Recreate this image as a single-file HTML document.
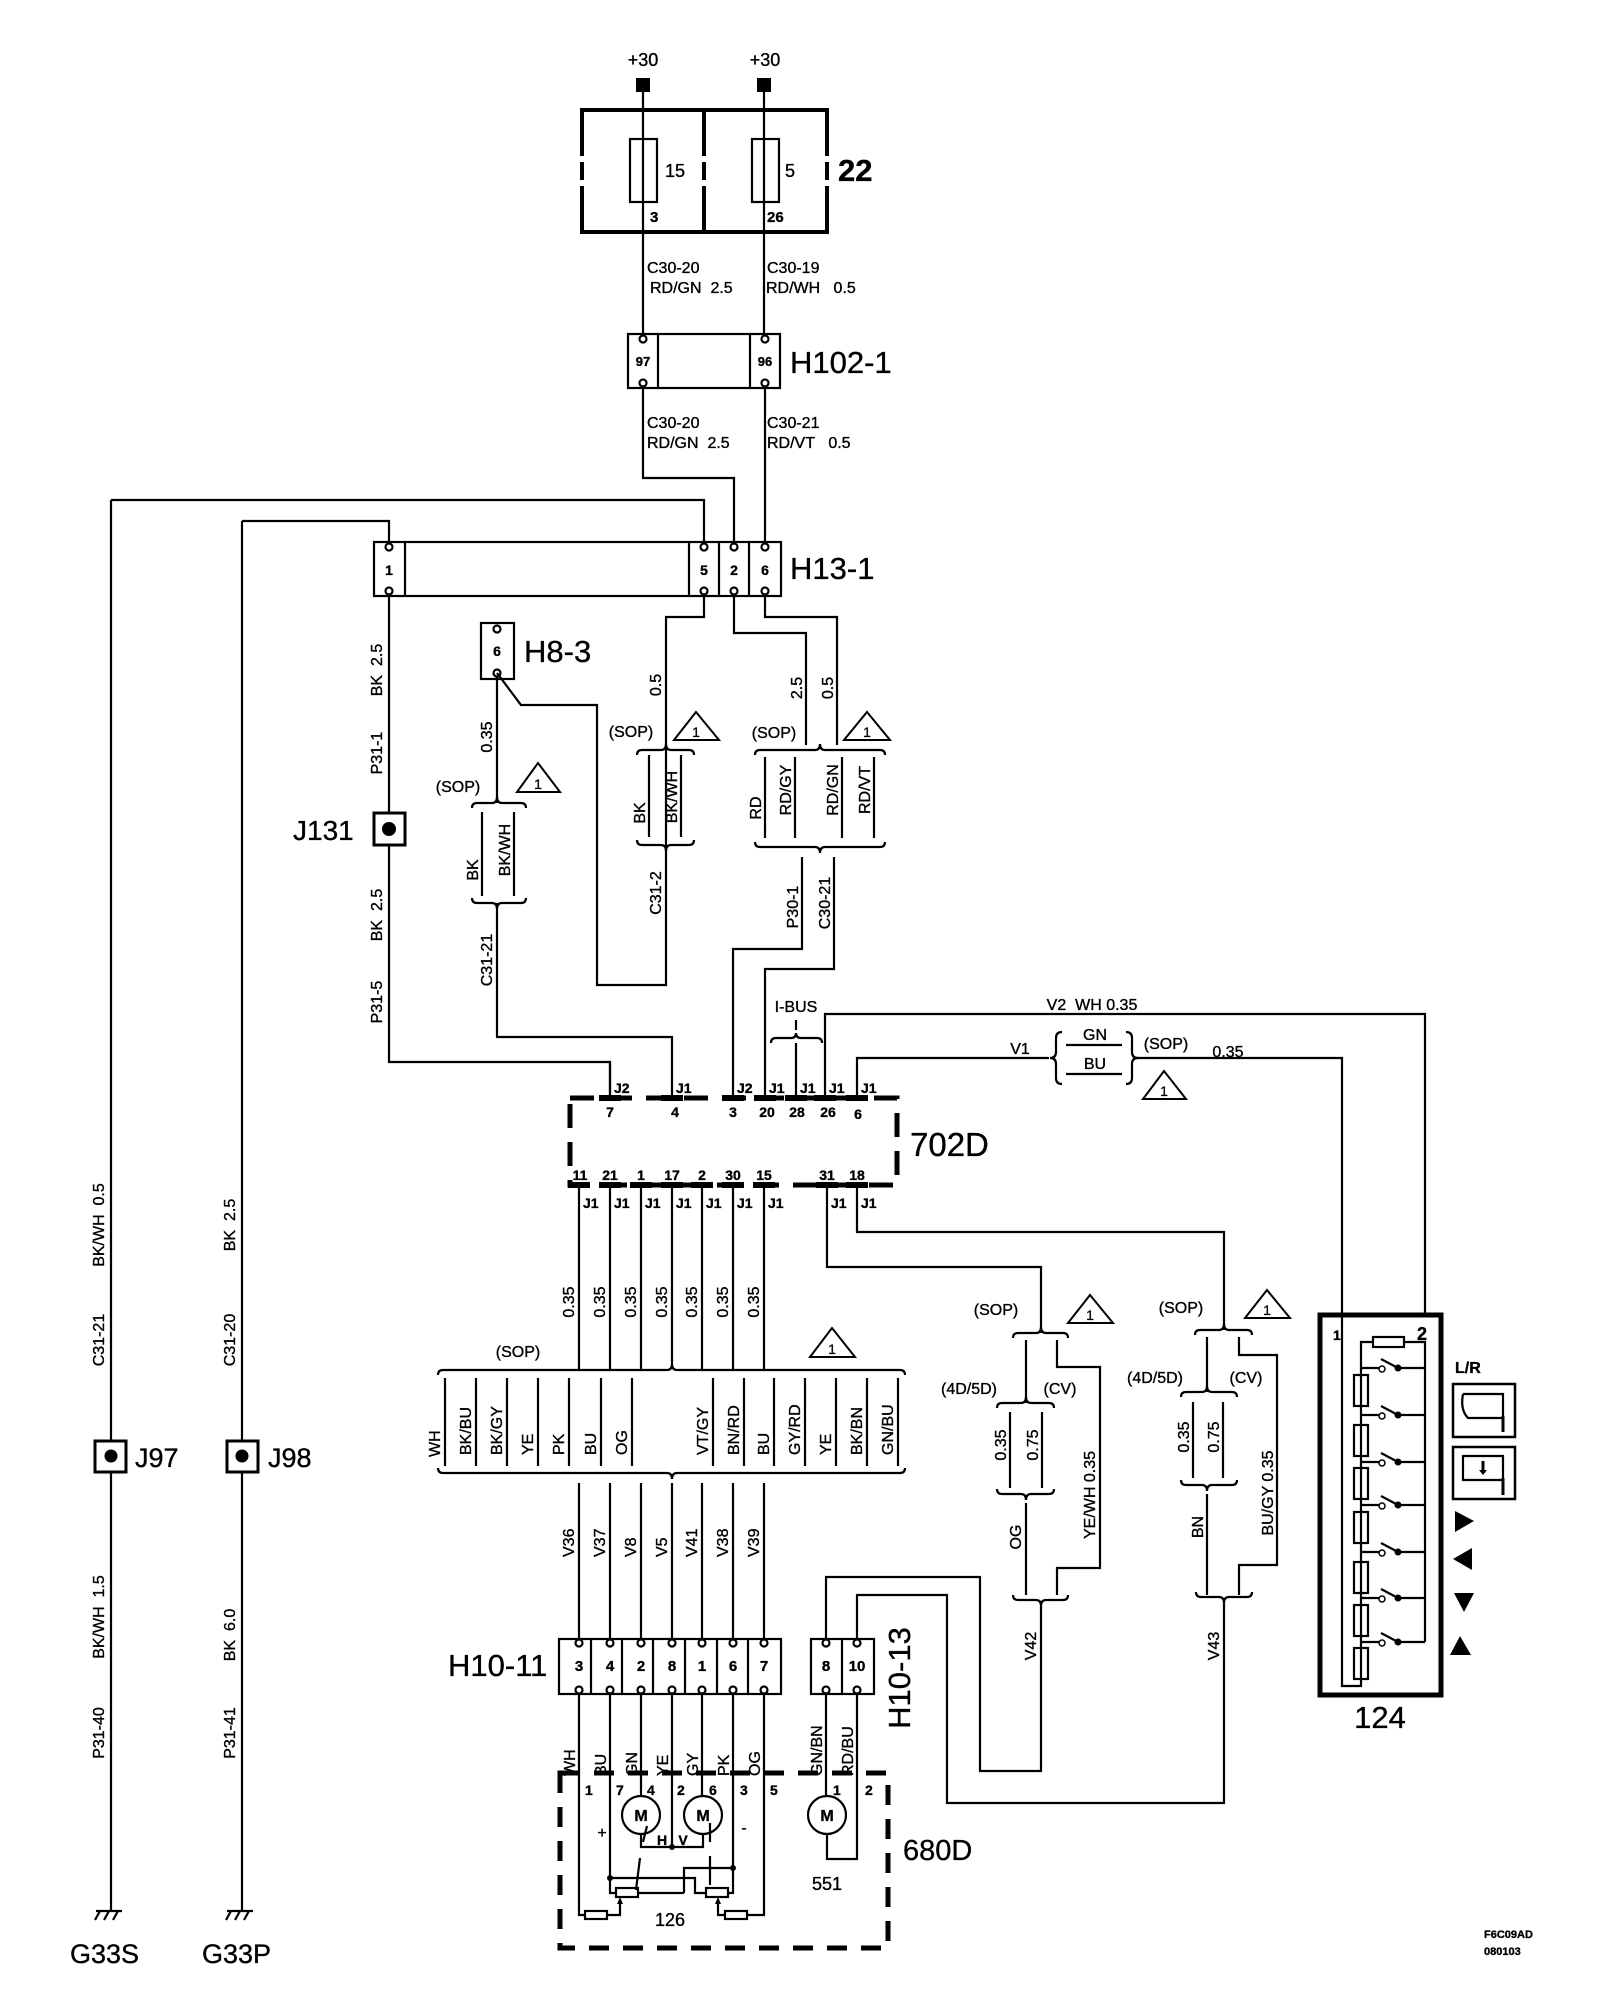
<!DOCTYPE html>
<html><head><meta charset="utf-8"><style>
html,body{margin:0;padding:0;background:#fff;}
svg{display:block;}
text{font-family:"Liberation Sans",Arial,sans-serif;fill:#000;stroke:#000;stroke-width:0.35;}
.s{font-size:16px;}
.p{font-size:14px;font-weight:bold;}
.m{font-size:18px;}
.b{font-size:31px;}
.w{fill:none;stroke:#000;stroke-width:2.2;}
.k{fill:none;stroke:#000;stroke-width:4;}
</style></head><body>
<svg width="1600" height="2000" viewBox="0 0 1600 2000" xmlns="http://www.w3.org/2000/svg">
<rect width="1600" height="2000" fill="#fff"/>

<!-- Fuse box 22 -->
<text class="m" x="643" y="66" text-anchor="middle">+30</text>
<text class="m" x="765" y="66" text-anchor="middle">+30</text>
<rect x="636" y="78" width="14" height="14"/>
<rect x="757" y="78" width="14" height="14"/>
<path class="k" d="M582 156V110H827V156 M582 162V180 M827 162V180 M582 186V232H827V186 M704 110V156 M704 162V180 M704 186V232"/>
<path class="w" d="M643 92V334 M764 92V334"/>
<rect class="w" x="630" y="139" width="27" height="63"/>
<rect class="w" x="752" y="139" width="27" height="63"/>
<text class="m" x="665" y="177">15</text>
<text class="m" x="785" y="177">5</text>
<text class="p" x="650" y="222" style="font-size:15px">3</text>
<text class="p" x="767" y="222" style="font-size:15px">26</text>
<text x="838" y="181" style="font-size:31px;font-weight:bold">22</text>
<text class="s" x="647" y="273">C30-20</text>
<text class="s" x="650" y="293">RD/GN&#160;&#160;2.5</text>
<text class="s" x="767" y="273">C30-19</text>
<text class="s" x="766" y="293">RD/WH&#160;&#160;&#160;0.5</text>

<!-- H102-1 -->
<rect class="w" x="628" y="334" width="152" height="54"/>
<path class="w" d="M658 334V388 M750 334V388"/>
<circle class="w" cx="643" cy="339" r="3.5" fill="#fff"/><circle class="w" cx="643" cy="383" r="3.5" fill="#fff"/>
<circle class="w" cx="765" cy="339" r="3.5" fill="#fff"/><circle class="w" cx="765" cy="383" r="3.5" fill="#fff"/>
<text class="p" x="643" y="366" text-anchor="middle" style="font-size:13px">97</text>
<text class="p" x="765" y="366" text-anchor="middle" style="font-size:13px">96</text>
<text class="b" x="790" y="373">H102-1</text>
<text class="s" x="647" y="428">C30-20</text>
<text class="s" x="647" y="448">RD/GN&#160;&#160;2.5</text>
<text class="s" x="767" y="428">C30-21</text>
<text class="s" x="767" y="448">RD/VT&#160;&#160;&#160;0.5</text>
<path class="w" d="M643 388V478H734V542 M765 388V542"/>
<path class="w" d="M111 500H704V542 M242 521H389V542"/>

<!-- H13-1 -->
<rect class="w" x="374" y="542" width="407" height="54"/>
<path class="w" d="M405 542V596 M689 542V596 M719 542V596 M749 542V596"/>
<g class="w" fill="#fff">
<circle cx="389" cy="547" r="3.5"/><circle cx="389" cy="591" r="3.5"/>
<circle cx="704" cy="547" r="3.5"/><circle cx="704" cy="591" r="3.5"/>
<circle cx="734" cy="547" r="3.5"/><circle cx="734" cy="591" r="3.5"/>
<circle cx="765" cy="547" r="3.5"/><circle cx="765" cy="591" r="3.5"/>
</g>
<text class="p" x="389" y="575" text-anchor="middle">1</text>
<text class="p" x="704" y="575" text-anchor="middle">5</text>
<text class="p" x="734" y="575" text-anchor="middle">2</text>
<text class="p" x="765" y="575" text-anchor="middle">6</text>
<text class="b" x="790" y="579">H13-1</text>

<!-- pin1 wire + J131 -->
<path class="w" d="M389 596V1062H610V1098"/>
<rect x="374" y="813" width="31" height="32" fill="#fff" stroke="#000" stroke-width="3"/>
<circle cx="389" cy="829" r="7"/>
<text class="b" x="293" y="840" style="font-size:28px">J131</text>
<text class="s" transform="rotate(-90 382 670)" x="382" y="670" text-anchor="middle">BK&#160;&#160;2.5</text>
<text class="s" transform="rotate(-90 382 753)" x="382" y="753" text-anchor="middle">P31-1</text>
<text class="s" transform="rotate(-90 382 915)" x="382" y="915" text-anchor="middle">BK&#160;&#160;2.5</text>
<text class="s" transform="rotate(-90 382 1002)" x="382" y="1002" text-anchor="middle">P31-5</text>

<!-- H8-3 -->
<rect class="w" x="481" y="623" width="33" height="56"/>
<circle class="w" cx="497" cy="629" r="3.5" fill="#fff"/><circle class="w" cx="497" cy="673" r="3.5" fill="#fff"/>
<text class="p" x="497" y="656" text-anchor="middle">6</text>
<text class="b" x="524" y="662">H8-3</text>
<path class="w" d="M497 676V803 M497 903V1037H672V1098"/>
<text class="s" transform="rotate(-90 492 737)" x="492" y="737" text-anchor="middle">0.35</text>
<text class="s" x="458" y="792" text-anchor="middle">(SOP)</text>
<path class="w" d="M472 808Q472 803 477 803L492 803Q497 803 497 797Q497 803 502 803L521 803Q526 803 526 808"/>
<path class="w" d="M482 812V896 M514 812V896"/>
<text class="s" transform="rotate(-90 478 870)" x="478" y="870" text-anchor="middle">BK</text>
<text class="s" transform="rotate(-90 510 850)" x="510" y="850" text-anchor="middle">BK/WH</text>
<path class="w" d="M472 898Q472 903 477 903L492 903Q497 903 497 909Q497 903 502 903L521 903Q526 903 526 898"/>
<text class="s" transform="rotate(-90 492 960)" x="492" y="960" text-anchor="middle">C31-21</text>

<!-- pin 5 route -->
<path class="w" d="M497 673L521 705H597V985H666V617H704V596"/>
<text class="s" transform="rotate(-90 661 685)" x="661" y="685" text-anchor="middle">0.5</text>
<text class="s" x="631" y="737" text-anchor="middle">(SOP)</text>
<path class="w" d="M637 755Q637 750 642 750L661 750Q666 750 666 744Q666 750 671 750L689 750Q694 750 694 755"/>
<path class="w" d="M649 755V837 M681 755V837"/>
<text class="s" transform="rotate(-90 645 813)" x="645" y="813" text-anchor="middle">BK</text>
<text class="s" transform="rotate(-90 677 797)" x="677" y="797" text-anchor="middle">BK/WH</text>
<path class="w" d="M637 840Q637 845 642 845L661 845Q666 845 666 851Q666 845 671 845L689 845Q694 845 694 840"/>
<text class="s" transform="rotate(-90 661 893)" x="661" y="893" text-anchor="middle">C31-2</text>

<!-- pins 2, 6 -->
<path class="w" d="M734 596V633H806V745 M765 596V617H837V745"/>
<text class="s" transform="rotate(-90 802 688)" x="802" y="688" text-anchor="middle">2.5</text>
<text class="s" transform="rotate(-90 833 688)" x="833" y="688" text-anchor="middle">0.5</text>
<text class="s" x="774" y="738" text-anchor="middle">(SOP)</text>
<path class="w" d="M755 755Q755 750 760 750L815 750Q820 750 820 744Q820 750 825 750L880 750Q885 750 885 755"/>
<path class="w" d="M765 757V838 M795 757V838 M842 757V838 M874 757V838"/>
<text class="s" transform="rotate(-90 761 808)" x="761" y="808" text-anchor="middle">RD</text>
<text class="s" transform="rotate(-90 791 790)" x="791" y="790" text-anchor="middle">RD/GY</text>
<text class="s" transform="rotate(-90 838 790)" x="838" y="790" text-anchor="middle">RD/GN</text>
<text class="s" transform="rotate(-90 870 790)" x="870" y="790" text-anchor="middle">RD/VT</text>
<path class="w" d="M755 842Q755 847 760 847L815 847Q820 847 820 853Q820 847 825 847L880 847Q885 847 885 842"/>
<path class="w" d="M802 857V949H733V1098 M834 857V969H765V1098"/>
<text class="s" transform="rotate(-90 798 907)" x="798" y="907" text-anchor="middle">P30-1</text>
<text class="s" transform="rotate(-90 830 903)" x="830" y="903" text-anchor="middle">C30-21</text>

<!-- I-BUS -->
<text class="s" x="796" y="1012" text-anchor="middle">I-BUS</text>
<path class="w" d="M796 1020V1030"/>
<path class="w" d="M771 1043Q771 1038 776 1038L791 1038Q796 1038 796 1033Q796 1038 801 1038L817 1038Q822 1038 822 1043"/>
<path class="w" d="M796 1043V1098"/>
<path class="w" d="M825 1098V1014H1425V1313"/>
<text class="s" x="1092" y="1010" text-anchor="middle">V2&#160;&#160;WH 0.35</text>
<path class="w" d="M857 1098V1058H1049 M1137 1058H1342V1313"/>
<text class="s" x="1020" y="1054" text-anchor="middle">V1</text>
<path class="w" d="M1062 1032Q1056 1032 1056 1038L1056 1052Q1056 1058 1050 1058Q1056 1058 1056 1064L1056 1078Q1056 1084 1062 1084"/>
<path class="w" d="M1126 1032Q1132 1032 1132 1038L1132 1052Q1132 1058 1138 1058Q1132 1058 1132 1064L1132 1078Q1132 1084 1126 1084"/>
<text class="s" x="1095" y="1040" text-anchor="middle">GN</text>
<path class="w" d="M1066 1045H1122 M1066 1074H1122"/>
<text class="s" x="1095" y="1069" text-anchor="middle">BU</text>
<text class="s" x="1166" y="1049" text-anchor="middle">(SOP)</text>
<text class="s" x="1228" y="1057" text-anchor="middle">0.35</text>

<!-- 702D -->
<rect x="570" y="1098" width="327" height="87" fill="none" stroke="#000" stroke-width="5" stroke-dasharray="24 14"/>
<path stroke="#000" stroke-width="6" d="M599 1098H621 M661 1098H683 M722 1098H744 M754 1098H776 M785 1098H807 M814 1098H836 M846 1098H868 M568 1185H590 M599 1185H621 M630 1185H652 M661 1185H683 M691 1185H713 M722 1185H744 M753 1185H775 M816 1185H838 M846 1185H868"/>
<path class="w" d="M610 1062V1098"/>
<g class="p">
<text x="614" y="1093">J2</text><text x="676" y="1093">J1</text><text x="737" y="1093">J2</text><text x="769" y="1093">J1</text><text x="800" y="1093">J1</text><text x="829" y="1093">J1</text><text x="861" y="1093">J1</text>
<text x="610" y="1117" text-anchor="middle">7</text><text x="675" y="1117" text-anchor="middle">4</text><text x="733" y="1117" text-anchor="middle">3</text><text x="767" y="1117" text-anchor="middle">20</text><text x="797" y="1117" text-anchor="middle">28</text><text x="828" y="1117" text-anchor="middle">26</text><text x="858" y="1119" text-anchor="middle">6</text>
<text x="580" y="1180" text-anchor="middle">11</text><text x="610" y="1180" text-anchor="middle">21</text><text x="641" y="1180" text-anchor="middle">1</text><text x="672" y="1180" text-anchor="middle">17</text><text x="702" y="1180" text-anchor="middle">2</text><text x="733" y="1180" text-anchor="middle">30</text><text x="764" y="1180" text-anchor="middle">15</text><text x="827" y="1180" text-anchor="middle">31</text><text x="857" y="1180" text-anchor="middle">18</text>
<text x="583" y="1208">J1</text><text x="614" y="1208">J1</text><text x="645" y="1208">J1</text><text x="676" y="1208">J1</text><text x="706" y="1208">J1</text><text x="737" y="1208">J1</text><text x="768" y="1208">J1</text><text x="831" y="1208">J1</text><text x="861" y="1208">J1</text>
</g>
<text x="910" y="1156" style="font-size:33px">702D</text>

<!-- bottom wires from 702D -->
<path class="w" d="M579 1185V1370 M610 1185V1370 M641 1185V1370 M672 1185V1364 M702 1185V1370 M733 1185V1370 M764 1185V1370"/>
<g class="s">
<text transform="rotate(-90 574 1302)" x="574" y="1302" text-anchor="middle">0.35</text>
<text transform="rotate(-90 605 1302)" x="605" y="1302" text-anchor="middle">0.35</text>
<text transform="rotate(-90 636 1302)" x="636" y="1302" text-anchor="middle">0.35</text>
<text transform="rotate(-90 667 1302)" x="667" y="1302" text-anchor="middle">0.35</text>
<text transform="rotate(-90 697 1302)" x="697" y="1302" text-anchor="middle">0.35</text>
<text transform="rotate(-90 728 1302)" x="728" y="1302" text-anchor="middle">0.35</text>
<text transform="rotate(-90 759 1302)" x="759" y="1302" text-anchor="middle">0.35</text>
</g>
<text class="s" x="518" y="1357" text-anchor="middle">(SOP)</text>
<path class="w" d="M438 1375Q438 1370 443 1370L667 1370Q672 1370 672 1364Q672 1370 677 1370L900 1370Q905 1370 905 1375"/>
<path class="w" d="M445 1378V1466 M476 1378V1466 M507 1378V1466 M538 1378V1466 M569 1378V1466 M601 1378V1466 M632 1378V1466 M713 1378V1466 M744 1378V1466 M774 1378V1466 M805 1378V1466 M836 1378V1466 M867 1378V1466 M898 1378V1466"/>
<g class="s">
<text transform="rotate(-90 440 1457)" x="440" y="1457">WH</text>
<text transform="rotate(-90 471 1455)" x="471" y="1455">BK/BU</text>
<text transform="rotate(-90 502 1455)" x="502" y="1455">BK/GY</text>
<text transform="rotate(-90 533 1455)" x="533" y="1455">YE</text>
<text transform="rotate(-90 564 1455)" x="564" y="1455">PK</text>
<text transform="rotate(-90 596 1455)" x="596" y="1455">BU</text>
<text transform="rotate(-90 627 1455)" x="627" y="1455">OG</text>
<text transform="rotate(-90 708 1455)" x="708" y="1455">VT/GY</text>
<text transform="rotate(-90 739 1455)" x="739" y="1455">BN/RD</text>
<text transform="rotate(-90 769 1455)" x="769" y="1455">BU</text>
<text transform="rotate(-90 800 1455)" x="800" y="1455">GY/RD</text>
<text transform="rotate(-90 831 1455)" x="831" y="1455">YE</text>
<text transform="rotate(-90 862 1455)" x="862" y="1455">BK/BN</text>
<text transform="rotate(-90 893 1455)" x="893" y="1455">GN/BU</text>
</g>
<path class="w" d="M438 1468Q438 1473 443 1473L667 1473Q672 1473 672 1479Q672 1473 677 1473L900 1473Q905 1473 905 1468"/>
<path class="w" d="M579 1483V1639 M610 1483V1639 M641 1483V1639 M672 1483V1639 M702 1483V1639 M733 1483V1639 M764 1483V1639"/>
<g class="s">
<text transform="rotate(-90 574 1557)" x="574" y="1557">V36</text>
<text transform="rotate(-90 605 1557)" x="605" y="1557">V37</text>
<text transform="rotate(-90 636 1557)" x="636" y="1557">V8</text>
<text transform="rotate(-90 667 1557)" x="667" y="1557">V5</text>
<text transform="rotate(-90 697 1557)" x="697" y="1557">V41</text>
<text transform="rotate(-90 728 1557)" x="728" y="1557">V38</text>
<text transform="rotate(-90 759 1557)" x="759" y="1557">V39</text>
</g>

<!-- triangles -->
<g fill="none" stroke="#000" stroke-width="2">
<path d="M538 763L560 792H517Z"/><path d="M696 712L719 740H674Z"/><path d="M867 712L890 740H844Z"/>
<path d="M832 1328L855 1357H810Z"/><path d="M1090 1295L1113 1323H1068Z"/><path d="M1267 1290L1290 1318H1245Z"/>
<path d="M1164 1071L1186 1099H1143Z"/>
</g>
<g style="font-size:14px" text-anchor="middle">
<text x="538" y="789">1</text><text x="696" y="737">1</text><text x="867" y="737">1</text>
<text x="832" y="1354">1</text><text x="1090" y="1320">1</text><text x="1267" y="1315">1</text><text x="1164" y="1096">1</text>
</g>

<!-- V42 group -->
<path class="w" d="M827 1185V1267H1041V1333 M857 1185V1232H1224V1330"/>
<text class="s" x="996" y="1315" text-anchor="middle">(SOP)</text>
<text class="s" x="1181" y="1313" text-anchor="middle">(SOP)</text>
<path class="w" d="M1013 1338Q1013 1333 1018 1333L1036 1333Q1041 1333 1041 1327Q1041 1333 1046 1333L1063 1333Q1068 1333 1068 1338"/>
<path class="w" d="M1026 1340V1403 M1057 1340V1367H1100V1568H1057V1595"/>
<text class="s" x="969" y="1394" text-anchor="middle">(4D/5D)</text>
<text class="s" x="1060" y="1394" text-anchor="middle">(CV)</text>
<path class="w" d="M997 1408Q997 1403 1002 1403L1021 1403Q1026 1403 1026 1397Q1026 1403 1031 1403L1049 1403Q1054 1403 1054 1408"/>
<path class="w" d="M1010 1412V1488 M1042 1412V1488"/>
<text class="s" transform="rotate(-90 1006 1445)" x="1006" y="1445" text-anchor="middle">0.35</text>
<text class="s" transform="rotate(-90 1038 1445)" x="1038" y="1445" text-anchor="middle">0.75</text>
<path class="w" d="M997 1489Q997 1494 1002 1494L1021 1494Q1026 1494 1026 1500Q1026 1494 1031 1494L1049 1494Q1054 1494 1054 1489"/>
<path class="w" d="M1026 1503V1595"/>
<text class="s" transform="rotate(-90 1021 1537)" x="1021" y="1537" text-anchor="middle">OG</text>
<text class="s" transform="rotate(-90 1095 1495)" x="1095" y="1495" text-anchor="middle">YE/WH 0.35</text>
<path class="w" d="M1013 1595Q1013 1600 1018 1600L1036 1600Q1041 1600 1041 1606Q1041 1600 1046 1600L1063 1600Q1068 1600 1068 1595"/>
<path class="w" d="M1041 1606V1771H980V1577H826V1639"/>
<text class="s" transform="rotate(-90 1036 1646)" x="1036" y="1646" text-anchor="middle">V42</text>

<!-- V43 group -->
<path class="w" d="M1195 1335Q1195 1330 1200 1330L1219 1330Q1224 1330 1224 1324Q1224 1330 1229 1330L1247 1330Q1252 1330 1252 1335"/>
<path class="w" d="M1207 1337V1392 M1239 1337V1355H1277V1565H1239V1595"/>
<text class="s" x="1155" y="1383" text-anchor="middle">(4D/5D)</text>
<text class="s" x="1246" y="1383" text-anchor="middle">(CV)</text>
<path class="w" d="M1181 1397Q1181 1392 1186 1392L1202 1392Q1207 1392 1207 1386Q1207 1392 1212 1392L1232 1392Q1237 1392 1237 1397"/>
<path class="w" d="M1193 1402V1478 M1223 1402V1478"/>
<text class="s" transform="rotate(-90 1189 1437)" x="1189" y="1437" text-anchor="middle">0.35</text>
<text class="s" transform="rotate(-90 1219 1437)" x="1219" y="1437" text-anchor="middle">0.75</text>
<path class="w" d="M1181 1480Q1181 1485 1186 1485L1202 1485Q1207 1485 1207 1491Q1207 1485 1212 1485L1232 1485Q1237 1485 1237 1480"/>
<path class="w" d="M1207 1494V1595"/>
<text class="s" transform="rotate(-90 1203 1527)" x="1203" y="1527" text-anchor="middle">BN</text>
<text class="s" transform="rotate(-90 1273 1493)" x="1273" y="1493" text-anchor="middle">BU/GY 0.35</text>
<path class="w" d="M1196 1592Q1196 1597 1201 1597L1219 1597Q1224 1597 1224 1603Q1224 1597 1229 1597L1247 1597Q1252 1597 1252 1592"/>
<path class="w" d="M1224 1603V1803H947V1595H857V1639"/>
<text class="s" transform="rotate(-90 1219 1646)" x="1219" y="1646" text-anchor="middle">V43</text>

<!-- H10-11 -->
<rect class="w" x="559" y="1639" width="222" height="55"/>
<path class="w" d="M591 1639V1694 M622 1639V1694 M653 1639V1694 M685 1639V1694 M717 1639V1694 M748 1639V1694"/>
<g class="w" fill="#fff">
<circle cx="579" cy="1643" r="3.5"/><circle cx="610" cy="1643" r="3.5"/><circle cx="641" cy="1643" r="3.5"/><circle cx="672" cy="1643" r="3.5"/><circle cx="702" cy="1643" r="3.5"/><circle cx="733" cy="1643" r="3.5"/><circle cx="764" cy="1643" r="3.5"/>
<circle cx="579" cy="1690" r="3.5"/><circle cx="610" cy="1690" r="3.5"/><circle cx="641" cy="1690" r="3.5"/><circle cx="672" cy="1690" r="3.5"/><circle cx="702" cy="1690" r="3.5"/><circle cx="733" cy="1690" r="3.5"/><circle cx="764" cy="1690" r="3.5"/>
<circle cx="826" cy="1643" r="3.5"/><circle cx="857" cy="1643" r="3.5"/><circle cx="826" cy="1690" r="3.5"/><circle cx="857" cy="1690" r="3.5"/>
</g>
<g class="p" text-anchor="middle" style="font-size:15px">
<text x="579" y="1671">3</text><text x="610" y="1671">4</text><text x="641" y="1671">2</text><text x="672" y="1671">8</text><text x="702" y="1671">1</text><text x="733" y="1671">6</text><text x="764" y="1671">7</text>
<text x="826" y="1671">8</text><text x="857" y="1671">10</text>
</g>
<text class="b" x="448" y="1676">H10-11</text>
<rect class="w" x="811" y="1639" width="63" height="55"/>
<path class="w" d="M842 1639V1694"/>
<text class="b" transform="rotate(-90 910 1678)" x="910" y="1678" text-anchor="middle">H10-13</text>

<!-- wires into 680D -->
<path class="w" d="M579 1694V1915H585 M607 1915H620V1900 M610 1694V1893H616 M641 1694V1796 M672 1694V1847 M702 1694V1796 M733 1694V1893H728 M764 1694V1915H747 M725 1915H718V1900 M826 1694V1796 M857 1694V1859H827V1834"/>
<g class="s">
<text transform="rotate(-90 575 1776)" x="575" y="1776">WH</text>
<text transform="rotate(-90 606 1776)" x="606" y="1776">BU</text>
<text transform="rotate(-90 637 1776)" x="637" y="1776">GN</text>
<text transform="rotate(-90 668 1776)" x="668" y="1776">YE</text>
<text transform="rotate(-90 698 1776)" x="698" y="1776">GY</text>
<text transform="rotate(-90 729 1776)" x="729" y="1776">PK</text>
<text transform="rotate(-90 760 1776)" x="760" y="1776">OG</text>
<text transform="rotate(-90 822 1776)" x="822" y="1776">GN/BN</text>
<text transform="rotate(-90 853 1776)" x="853" y="1776">RD/BU</text>
</g>
<!-- 680D -->
<rect x="560" y="1773" width="328" height="175" fill="none" stroke="#000" stroke-width="5" stroke-dasharray="20 14"/>
<g class="p">
<text x="585" y="1795">1</text><text x="616" y="1795">7</text><text x="647" y="1795">4</text><text x="677" y="1795">2</text><text x="709" y="1795">6</text><text x="740" y="1795">3</text><text x="770" y="1795">5</text>
<text x="833" y="1795">1</text><text x="865" y="1795">2</text>
</g>
<circle class="w" cx="641" cy="1815" r="19" fill="#fff"/>
<circle class="w" cx="703" cy="1815" r="19" fill="#fff"/>
<circle class="w" cx="827" cy="1815" r="19" fill="#fff"/>
<g class="p" text-anchor="middle" style="font-size:16px"><text x="641" y="1821">M</text><text x="703" y="1821">M</text><text x="827" y="1821">M</text></g>
<path class="w" d="M641 1834V1847H703V1834"/>
<circle cx="672" cy="1847" r="3"/>
<text class="p" x="662" y="1845" text-anchor="middle">H</text>
<text class="p" x="683" y="1845" text-anchor="middle">V</text>
<text class="s" x="602" y="1838" text-anchor="middle">+</text>
<text class="s" x="744" y="1833" text-anchor="middle">-</text>
<path class="w" d="M647 1826L643 1842 M640 1858L636 1890 M710 1823V1842 M710 1856V1885"/>
<path class="w" d="M610 1878H695V1893H706 M684 1893V1868H733 M638 1893H684"/>
<circle cx="610" cy="1878" r="3"/><circle cx="733" cy="1868" r="3"/>
<rect class="w" x="616" y="1888" width="22" height="9"/>
<rect class="w" x="706" y="1888" width="22" height="9"/>
<rect class="w" x="585" y="1911" width="22" height="8"/>
<rect class="w" x="725" y="1911" width="22" height="8"/>
<path d="M620 1897l-3 7h6z M718 1897l-3 7h6z"/>
<text class="m" x="670" y="1926" text-anchor="middle">126</text>
<text class="m" x="827" y="1890" text-anchor="middle">551</text>
<text x="903" y="1860" style="font-size:29px">680D</text>

<!-- Left ground lines -->
<path class="w" d="M111 500V1911 M242 521V1911"/>
<rect x="95" y="1441" width="31" height="31" fill="#fff" stroke="#000" stroke-width="3"/>
<circle cx="111" cy="1456" r="6.5"/>
<rect x="227" y="1441" width="31" height="31" fill="#fff" stroke="#000" stroke-width="3"/>
<circle cx="242" cy="1456" r="6.5"/>
<text class="b" x="135" y="1467" style="font-size:27px">J97</text>
<text class="b" x="268" y="1467" style="font-size:27px">J98</text>
<g class="s">
<text transform="rotate(-90 104 1225)" x="104" y="1225" text-anchor="middle">BK/WH&#160;&#160;0.5</text>
<text transform="rotate(-90 104 1340)" x="104" y="1340" text-anchor="middle">C31-21</text>
<text transform="rotate(-90 104 1617)" x="104" y="1617" text-anchor="middle">BK/WH&#160;&#160;1.5</text>
<text transform="rotate(-90 104 1733)" x="104" y="1733" text-anchor="middle">P31-40</text>
<text transform="rotate(-90 235 1225)" x="235" y="1225" text-anchor="middle">BK&#160;&#160;2.5</text>
<text transform="rotate(-90 235 1340)" x="235" y="1340" text-anchor="middle">C31-20</text>
<text transform="rotate(-90 235 1635)" x="235" y="1635" text-anchor="middle">BK&#160;&#160;6.0</text>
<text transform="rotate(-90 235 1733)" x="235" y="1733" text-anchor="middle">P31-41</text>
</g>
<path class="w" d="M96 1911H122 M100 1911L95 1920 M109 1911L104 1920 M118 1911L113 1920 M227 1911H253 M231 1911L226 1920 M240 1911L235 1920 M249 1911L244 1920"/>
<text x="70" y="1963" style="font-size:27px">G33S</text>
<text x="202" y="1963" style="font-size:27px">G33P</text>

<!-- Component 124 -->
<rect x="1320" y="1315" width="121" height="380" fill="none" stroke="#000" stroke-width="5"/>
<text class="p" x="1333" y="1340">1</text>
<text class="m" x="1417" y="1340" style="font-weight:bold">2</text>
<path class="w" d="M1342 1313V1686H1361V1342H1373 M1404 1342H1425V1642"/>
<rect class="w" x="1373" y="1337" width="31" height="10"/>
<g class="w" fill="#fff">
<rect x="1354" y="1375" width="14" height="31"/><rect x="1354" y="1425" width="14" height="31"/><rect x="1354" y="1468" width="14" height="31"/><rect x="1354" y="1512" width="14" height="31"/><rect x="1354" y="1562" width="14" height="31"/><rect x="1354" y="1605" width="14" height="31"/><rect x="1354" y="1648" width="14" height="31"/>
</g>
<g class="w">
<path d="M1361 1368H1379 M1399 1368H1425 M1381 1359L1398 1368"/>
<path d="M1361 1415H1379 M1399 1415H1425 M1381 1406L1398 1415"/>
<path d="M1361 1462H1379 M1399 1462H1425 M1381 1453L1398 1462"/>
<path d="M1361 1505H1379 M1399 1505H1425 M1381 1496L1398 1505"/>
<path d="M1361 1552H1379 M1399 1552H1425 M1381 1543L1398 1552"/>
<path d="M1361 1598H1379 M1399 1598H1425 M1381 1589L1398 1598"/>
<path d="M1361 1642H1379 M1399 1642H1425 M1381 1633L1398 1642"/>
</g>
<g fill="#fff" stroke="#000" stroke-width="1.5">
<circle cx="1382" cy="1369" r="3"/><circle cx="1382" cy="1416" r="3"/><circle cx="1382" cy="1463" r="3"/><circle cx="1382" cy="1506" r="3"/><circle cx="1382" cy="1553" r="3"/><circle cx="1382" cy="1599" r="3"/><circle cx="1382" cy="1643" r="3"/>
</g>
<g><circle cx="1398" cy="1368" r="3.5"/><circle cx="1398" cy="1415" r="3.5"/><circle cx="1398" cy="1462" r="3.5"/><circle cx="1398" cy="1505" r="3.5"/><circle cx="1398" cy="1552" r="3.5"/><circle cx="1398" cy="1598" r="3.5"/><circle cx="1398" cy="1642" r="3.5"/></g>
<text x="1455" y="1373" style="font-size:16px;font-weight:bold">L/R</text>
<rect x="1453" y="1384" width="62" height="53" fill="none" stroke="#000" stroke-width="2.5"/>
<path class="w" d="M1463 1394H1503V1418H1468Q1460 1410 1463 1394 M1503 1408V1432"/>
<path stroke="#000" stroke-width="3" d="M1503 1416V1432"/>
<rect x="1453" y="1447" width="62" height="52" fill="none" stroke="#000" stroke-width="2.5"/>
<path class="w" d="M1463 1456H1503V1480H1463Z"/>
<path stroke="#000" stroke-width="3" d="M1503 1478V1495 M1483 1461V1472"/>
<path d="M1479 1470h8l-4 5z"/>
<path d="M1455 1511L1474 1521L1455 1532Z"/>
<path d="M1472 1548L1453 1559L1472 1570Z"/>
<path d="M1454 1593H1474L1464 1612Z"/>
<path d="M1450 1655H1471L1460 1636Z"/>
<text x="1380" y="1728" text-anchor="middle" style="font-size:31px">124</text>

<text x="1484" y="1938" style="font-size:11px;font-weight:bold">F6C09AD</text>
<text x="1484" y="1955" style="font-size:11px;font-weight:bold">080103</text>
</svg>
</body></html>
